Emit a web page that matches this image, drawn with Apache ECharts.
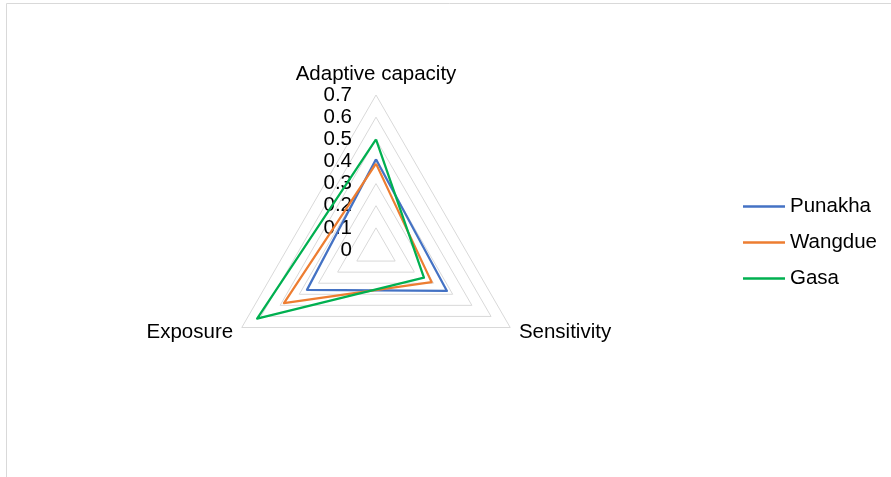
<!DOCTYPE html>
<html>
<head>
<meta charset="utf-8">
<script src="https://cdn.jsdelivr.net/npm/echarts@6/dist/echarts.min.js"></script>
<style>
  html, body { margin: 0; padding: 0; background: #fff; }
  #chart { width: 891px; height: 477px; }
</style>
</head>
<body>
<div id="chart"></div>
<script>
  // indicators in ECharts order (counter-clockwise from top)
  var indicators = ['Adaptive capacity', 'Exposure', 'Sensitivity'];
  var axisMax = 0.7;
  var seriesNames = ['Punakha', 'Wangdue', 'Gasa'];
  var punakha = [0.41, 0.36, 0.37];
  var wangdue = [0.39, 0.48, 0.29];
  var gasa = [0.50, 0.62, 0.25];
  var colors = ['#4472C4', '#ED7D31', '#00B050'];

  var font = '"Liberation Sans", Arial, sans-serif';
  var values = [punakha, wangdue, gasa];

  var chart = echarts.init(document.getElementById('chart'), null, { renderer: 'canvas' });
  chart.setOption({
    animation: false,
    textStyle: { fontFamily: font },
    graphic: [{
      type: 'rect',
      shape: { x: 6.5, y: 3.5, width: 900, height: 500 },
      style: { fill: 'none', stroke: '#d9d9d9', lineWidth: 1 },
      silent: true
    }],
    legend: {
      orient: 'vertical',
      left: 738,
      top: 191,
      itemWidth: 42,
      itemHeight: 2.5,
      itemGap: 15,
      icon: 'rect',
      data: seriesNames,
      textStyle: { fontFamily: font, fontSize: 20.5, color: '#000' }
    },
    radar: {
      center: [376, 250],
      radius: 155,
      startAngle: 90,
      shape: 'polygon',
      splitNumber: 7,
      nameGap: 10,
      axisName: { color: '#000', fontFamily: font, fontSize: 20.5 },
      axisLine: { show: false },
      axisTick: { show: false },
      axisLabel: { show: false },
      splitArea: { show: false },
      splitLine: { lineStyle: { color: '#d9d9d9', width: 1 } },
      indicator: indicators.map(function (name, i) {
        var ind = { name: name, min: 0, max: axisMax };
        if (i === 0) {
          ind.axisLabel = {
            show: true,
            margin: 24,
            color: '#000',
            fontFamily: font,
            fontSize: 20.5,
            formatter: function (v) { return String(+(+v).toFixed(1)); }
          };
        }
        return ind;
      })
    },
    series: [{
      type: 'radar',
      symbol: 'none',
      data: seriesNames.map(function (n, i) {
        return {
          name: n,
          value: values[i],
          lineStyle: { color: colors[i], width: 2.25 },
          itemStyle: { color: colors[i] }
        };
      })
    }]
  });
</script>
</body>
</html>
